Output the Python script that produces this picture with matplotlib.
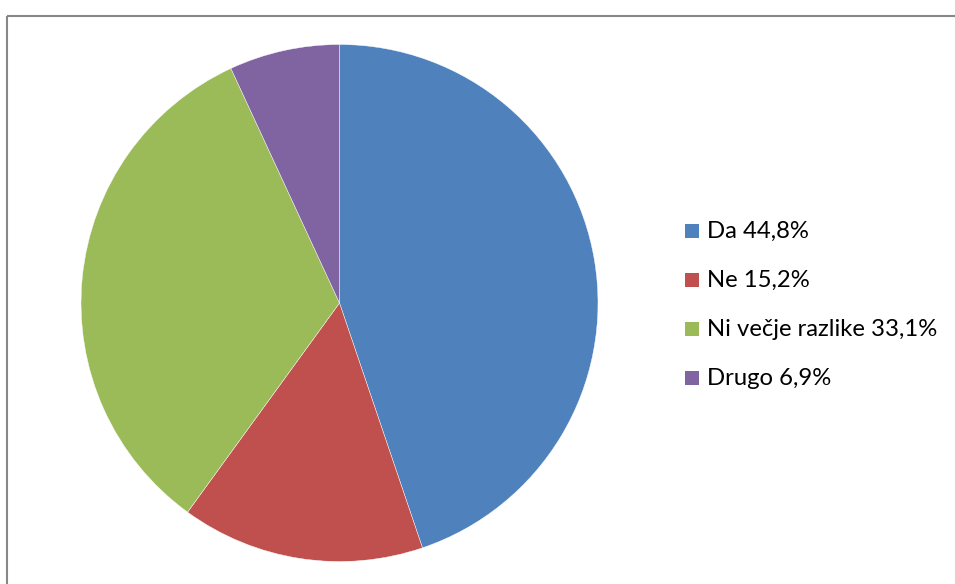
import matplotlib
matplotlib.use("Agg")
import matplotlib.pyplot as plt
from matplotlib.patches import Rectangle
from matplotlib.lines import Line2D

categories = ["Da", "Ne", "Ni večje razlike", "Drugo"]
shares = [44.8, 15.2, 33.1, 6.9]
colors = ["#4F81BD", "#C0504D", "#9BBB59", "#8064A2"]

W, H = 955, 584
fig = plt.figure(figsize=(W / 100, H / 100), dpi=100)
ax = fig.add_axes([0, 0, 1, 1])

# pie, clockwise from 12 o'clock
ax.pie(shares, colors=colors, startangle=90, counterclock=False,
       center=(339.5, H - 303), radius=258.5,
       wedgeprops=dict(linewidth=0.3, edgecolor="white"), frame=True)
ax.set_xlim(0, W)
ax.set_ylim(0, H)
ax.set_aspect("equal")
ax.axis("off")

# chart area frame (left and top edges)
frame_color = "#878787"
ax.add_line(Line2D([6.5, 6.5], [0, H - 15.5], color=frame_color, lw=1.5,
                   solid_capstyle="butt"))
ax.add_line(Line2D([6.5, W], [H - 15.5, H - 15.5], color=frame_color, lw=1.5,
                   solid_capstyle="butt"))

# legend
font = "Lato"
for i, (cat, val, col) in enumerate(zip(categories, shares, colors)):
    base = 238 + 49 * i
    ax.add_patch(Rectangle((685, H - base), 14, 14, facecolor=col,
                           edgecolor="none"))
    label = f"{cat} {val:.1f}%".replace(".", ",")
    ax.text(707, H - base, label, fontsize=17.2, family=font,
            va="baseline", ha="left", color="black")

fig.savefig("out.png", dpi=100)
